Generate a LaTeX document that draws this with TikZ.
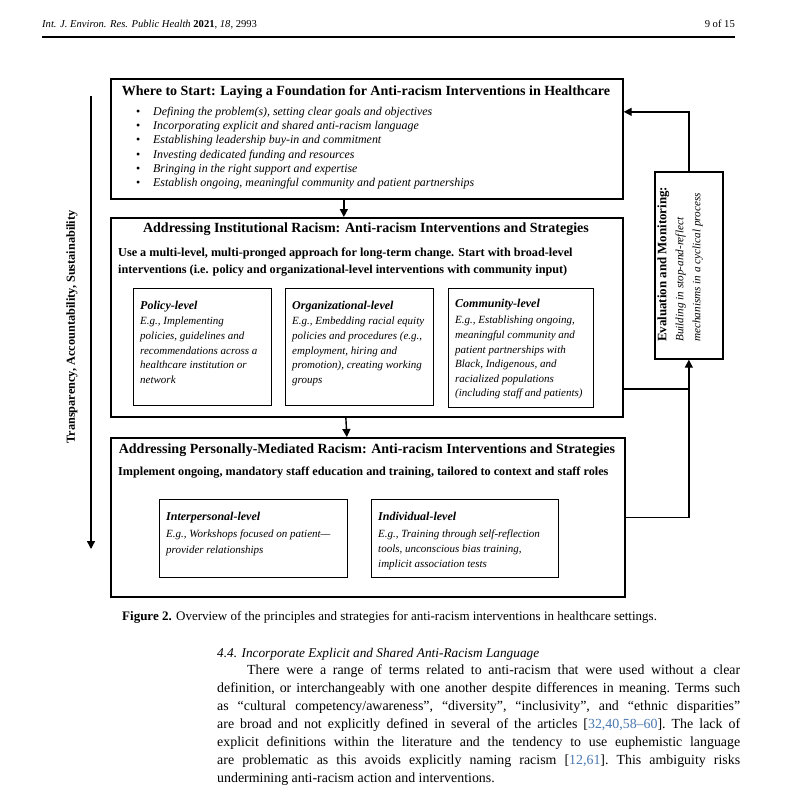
\documentclass[tikz,border=0pt]{standalone}
\usepackage{fontspec}
\setmainfont{Liberation Serif}
\usetikzlibrary{arrows.meta}
\definecolor{citeblue}{HTML}{4A78B0}

\begin{document}
\begin{tikzpicture}[x=1pt, y=-1pt, every node/.style={inner sep=0pt},
    box/.style={draw, line width=1.7pt, anchor=north west},
    subbox/.style={draw, line width=1.1pt, anchor=north west},
    boxtitle/.style={font=\bfseries\fontsize{14}{16}\selectfont},
    subtitle/.style={anchor=base west, font=\bfseries\itshape\fontsize{12}{14}\selectfont},
    subtext/.style={anchor=north west, align=left, font=\itshape\fontsize{11}{14.6}\selectfont},
    arr/.style={line width=1.4pt, -{Triangle[length=8pt,width=8pt]}}]
        \useasboundingbox (0,0) rectangle (789,797);
        \fill[white] (0,0) rectangle (789,797);
        % page header
        \node[anchor=base west, font=\fontsize{10.6}{12}\selectfont] (hdr) at (42,28) {\textit{Int. J. Environ. Res. Public Health} \textbf{2021}, \textit{18}, 2993};
        \node[anchor=base east, font=\fontsize{10.6}{12}\selectfont] (pagenum) at (735,28) {9 of 15};
        \draw[line width=1.4pt] (42,37) -- (735,37);
        % where to start
        \node[box, minimum width=512pt, minimum height=120pt] (start) at (110,78) {};
        \node[boxtitle] (starttitle) at (366,92) {Where to Start: Laying a Foundation for Anti-racism Interventions in Healthcare};
        \node[anchor=north west, align=left, font=\itshape\fontsize{11.9}{14.2}\selectfont] (startlist) at (136,107) {%
          \makebox[17pt][l]{\upshape\textbullet}Defining the problem(s), setting clear goals and objectives\\
          \makebox[17pt][l]{\upshape\textbullet}Incorporating explicit and shared anti-racism language\\
          \makebox[17pt][l]{\upshape\textbullet}Establishing leadership buy-in and commitment\\
          \makebox[17pt][l]{\upshape\textbullet}Investing dedicated funding and resources\\
          \makebox[17pt][l]{\upshape\textbullet}Bringing in the right support and expertise\\
          \makebox[17pt][l]{\upshape\textbullet}Establish ongoing, meaningful community and patient partnerships};
        % institutional racism
        \node[box, minimum width=512pt, minimum height=199pt] (inst) at (110,217) {};
        \node[boxtitle] (insttitle) at (366,229) {Addressing Institutional Racism: Anti-racism Interventions and Strategies};
        \node[anchor=north west, align=left, font=\bfseries\fontsize{12.2}{17}\selectfont] (insttext) at (118,248) {Use a multi-level, multi-pronged approach for long-term change. Start with broad-level\\ interventions (i.e. policy and organizational-level interventions with community input)};
        \node[subbox, minimum width=138pt, minimum height=117pt] (policy) at (133,288) {};
        \node[subtitle] (policytitle) at (140,309) {Policy-level};
        \node[subtext] (policytext) at (140,317) {E.g., Implementing\\ policies, guidelines and\\ recommendations across a\\ healthcare institution or\\ network};
        \node[subbox, minimum width=148pt, minimum height=117pt] (org) at (285,288) {};
        \node[subtitle] (orgtitle) at (292,309) {Organizational-level};
        \node[subtext] (orgtext) at (292,317) {E.g., Embedding racial equity\\ policies and procedures (e.g.,\\ employment, hiring and\\ promotion), creating working\\ groups};
        \node[subbox, minimum width=145pt, minimum height=119pt] (comm) at (448,288) {};
        \node[subtitle] (commtitle) at (455,307) {Community-level};
        \node[subtext] (commtext) at (455,316) {E.g., Establishing ongoing,\\ meaningful community and\\ patient partnerships with\\ Black, Indigenous, and\\ racialized populations\\ (including staff and patients)};
        % personally-mediated racism
        \node[box, minimum width=514pt, minimum height=159pt] (pers) at (110,437) {};
        \node[boxtitle] (perstitle) at (367,450) {Addressing Personally-Mediated Racism: Anti-racism Interventions and Strategies};
        \node[anchor=west, font=\bfseries\fontsize{12.2}{14}\selectfont] (perstext) at (118,473) {Implement ongoing, mandatory staff education and training, tailored to context and staff roles};
        \node[subbox, minimum width=188pt, minimum height=78pt] (inter) at (159,499) {};
        \node[subtitle] (intertitle) at (166,520) {Interpersonal-level};
        \node[subtext, font=\itshape\fontsize{11}{16}\selectfont] (intertext) at (166,530) {E.g., Workshops focused on patient---\\ provider relationships};
        \node[subbox, minimum width=187pt, minimum height=78pt] (indiv) at (371,499) {};
        \node[subtitle] (indivtitle) at (378,520) {Individual-level};
        \node[subtext, font=\itshape\fontsize{11}{14.8}\selectfont] (indivtext) at (378,530) {E.g., Training through self-reflection\\ tools, unconscious bias training,\\ implicit association tests};
        % evaluation loop
        \node[box, minimum width=68pt, minimum height=187pt] (eval) at (654,171) {};
        \node[anchor=west, rotate=90, align=left, font=\fontsize{11.2}{17}\selectfont] (evaltext) at (680,342) {{\bfseries\fontsize{12.9}{17}\selectfont Evaluation and Monitoring:}\\ \textit{Building in stop-and-reflect}\\ \textit{mechanisms in a cyclical process}};
        \draw[arr] ([xshift=-23pt]start.south) -- ([xshift=-23pt]inst.north);
        \draw[arr] ([xshift=-21pt]inst.south) -- ([xshift=-21pt]pers.north);
        \draw[arr] (eval.north) |- ([yshift=27pt]start.east);
        \draw[line width=1.4pt] ([yshift=-71.5pt]inst.east) -- ([yshift=-71.5pt]inst.east -| eval.south);
        \draw[arr] (pers.east) -| (eval.south);
        % side arrow
        \coordinate (tastop) at (91,96);
        \coordinate (tasbot) at (91,549);
        \draw[arr] (tastop) -- (tasbot);
        \node[rotate=90, font=\bfseries\fontsize{12.3}{14}\selectfont] (taslabel) at (72,327) {Transparency, Accountability, Sustainability};
        % caption and text
        \node[anchor=base west, font=\fontsize{13}{15}\selectfont] (caption) at (122,620) {\textbf{Figure 2.} Overview of the principles and strategies for anti-racism interventions in healthcare settings.};
        \node[anchor=base west, font=\itshape\fontsize{13.3}{15}\selectfont] (secthead) at (217,657) {4.4. Incorporate Explicit and Shared Anti-Racism Language};
        \node[anchor=north west, text width=523pt, align=justify, font=\fontsize{13.9}{18}\selectfont\frenchspacing] (para) at (217,665) {\hspace*{30pt}There were a range of terms related to anti-racism that were used without a clear\linebreak
          definition, or interchangeably with one another despite differences in meaning. Terms such\linebreak
          as “cultural competency/awareness”, “diversity”, “inclusivity”, and “ethnic disparities”\linebreak
          are broad and not explicitly defined in several of the articles [\textcolor{citeblue}{32,40,58–60}]. The lack of\linebreak
          explicit definitions within the literature and the tendency to use euphemistic language\linebreak
          are problematic as this avoids explicitly naming racism [\textcolor{citeblue}{12,61}]. This ambiguity risks\linebreak
          undermining anti-racism action and interventions.};
\end{tikzpicture}
\end{document}
